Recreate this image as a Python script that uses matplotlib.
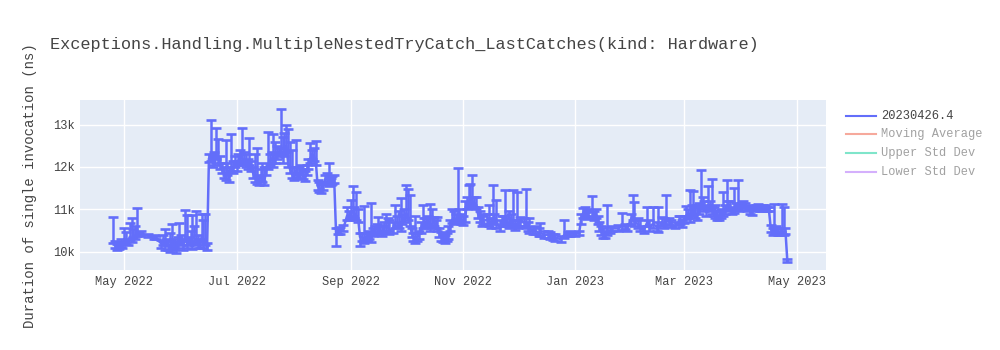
import matplotlib
matplotlib.use("Agg")
import matplotlib.pyplot as plt
import matplotlib.dates as mdates
from matplotlib.lines import Line2D
from matplotlib.ticker import FuncFormatter, FixedLocator
import numpy as np
import pandas as pd

# ---------------- data ----------------
series_name = "20230426.4"
hidden_series = ["Moving Average", "Upper Std Dev", "Lower Std Dev"]

dates_spring = ["2022-04-25", "2022-04-26", "2022-04-28", "2022-04-29", "2022-05-01",
                "2022-05-02", "2022-05-04", "2022-05-05", "2022-05-06", "2022-05-08",
                "2022-05-10", "2022-05-14", "2022-05-17", "2022-05-18", "2022-05-21",
                "2022-05-23", "2022-05-24", "2022-05-26", "2022-05-27", "2022-05-29",
                "2022-05-31", "2022-06-01", "2022-06-03", "2022-06-04", "2022-06-06",
                "2022-06-07", "2022-06-09", "2022-06-10", "2022-06-12", "2022-06-13",
                "2022-06-15"]
mean_spring = [10250, 10150, 10120, 10200, 10300,
               10250, 10350, 10280, 10400, 10450,
               10430, 10380, 10350, 10330, 10200,
               10150, 10250, 10080, 10200, 10080,
               10300, 10250, 10350, 10200, 10300,
               10150, 10300, 10200, 10350, 10150,
               10100]
upper_spring = [10810, 10250, 10200, 10300, 10560,
                10460, 10680, 10790, 10540, 11030,
                10480, 10420, 10390, 10370, 10280,
                10530, 10300, 10450, 10650, 10250,
                10680, 10400, 10980, 10870, 10500,
                10870, 10970, 10400, 10890, 10750,
                10200]
lower_spring = [10200, 10090, 10060, 10120, 10230,
                10180, 10280, 10220, 10320, 10380,
                10390, 10340, 10300, 10290, 10100,
                10040, 10150, 9990, 10100, 9970,
                10200, 10150, 10250, 10100, 10200,
                10060, 10200, 10100, 10250, 10080,
                10050]

dates_summer = ["2022-06-16", "2022-06-17", "2022-06-19", "2022-06-20", "2022-06-22",
                "2022-06-23", "2022-06-25", "2022-06-27", "2022-06-28", "2022-06-30",
                "2022-07-02", "2022-07-04", "2022-07-06", "2022-07-08", "2022-07-10",
                "2022-07-12", "2022-07-14", "2022-07-16", "2022-07-18", "2022-07-20",
                "2022-07-21", "2022-07-23", "2022-07-25", "2022-07-26", "2022-07-28",
                "2022-07-30", "2022-08-01", "2022-08-02", "2022-08-04", "2022-08-06",
                "2022-08-08", "2022-08-10", "2022-08-12", "2022-08-13", "2022-08-15",
                "2022-08-16", "2022-08-18", "2022-08-20", "2022-08-22"]
mean_summer = [12200, 12250, 12150, 12300, 12050,
               11950, 11800, 11750, 12000, 12100,
               12150, 12200, 12100, 12150, 11850,
               11700, 11800, 11650, 12050, 12200,
               12100, 12300, 12400, 12200, 12500,
               11950, 11800, 11900, 11850, 11800,
               11900, 12200, 12250, 12150, 11500,
               11450, 11700, 11650, 11700]
upper_summer = [12300, 13100, 12350, 12920, 12250,
                12100, 12630, 12000, 12770, 12250,
                12300, 12930, 12300, 12690, 12000,
                12450, 11950, 12000, 12820, 12350,
                12780, 12500, 13370, 12700, 12990,
                12600, 12000, 12630, 12000, 11950,
                12050, 12570, 12440, 12610, 11650,
                11600, 11800, 12090, 11780]
lower_summer = [12120, 12150, 12050, 12200, 11950,
                11850, 11700, 11650, 11900, 12000,
                12050, 12100, 12000, 12050, 11750,
                11600, 11680, 11570, 11950, 12100,
                12000, 12200, 12300, 12100, 12350,
                11850, 11700, 11800, 11750, 11720,
                11800, 12100, 12150, 12050, 11400,
                11380, 11600, 11550, 11600]

dates_autumn = ["2022-08-24", "2022-08-26", "2022-08-28", "2022-08-30", "2022-09-01",
                "2022-09-02", "2022-09-04", "2022-09-05", "2022-09-06", "2022-09-08",
                "2022-09-10", "2022-09-12", "2022-09-14", "2022-09-16", "2022-09-18",
                "2022-09-20", "2022-09-22", "2022-09-25", "2022-09-28", "2022-09-30",
                "2022-10-01", "2022-10-03", "2022-10-05", "2022-10-06", "2022-10-08",
                "2022-10-10", "2022-10-12", "2022-10-14", "2022-10-16", "2022-10-18",
                "2022-10-20", "2022-10-22", "2022-10-24", "2022-10-26", "2022-10-29",
                "2022-10-31", "2022-11-02", "2022-11-04", "2022-11-06", "2022-11-08",
                "2022-11-10", "2022-11-12", "2022-11-15", "2022-11-17", "2022-11-19",
                "2022-11-22", "2022-11-24", "2022-11-26", "2022-11-28", "2022-11-30",
                "2022-12-02", "2022-12-05", "2022-12-07", "2022-12-10", "2022-12-13",
                "2022-12-15", "2022-12-18", "2022-12-21", "2022-12-24", "2022-12-26",
                "2022-12-29"]
mean_autumn = [10450, 10500, 10550, 10850, 10900,
               10950, 10850, 10800, 10350, 10300,
               10350, 10300, 10500, 10550, 10450,
               10600, 10500, 10650, 10600, 10800,
               10900, 10700, 10350, 10300, 10400,
               10650, 10700, 10600, 10700, 10600,
               10350, 10300, 10400, 10750, 10800,
               10750, 10800, 11150, 11200, 11100,
               10800, 10750, 10700, 10800, 10650,
               10700, 10750, 10650, 10700, 10650,
               10700, 10650, 10550, 10500, 10450,
               10400, 10380, 10330, 10300, 10400,
               10430]
upper_autumn = [10550, 10580, 10620, 11050, 11220,
                11550, 11400, 11000, 10450, 11070,
                10440, 11150, 10600, 10830, 10600,
                10900, 10750, 11100, 11270, 11000,
                11570, 11350, 10450, 10840, 10500,
                11100, 10800, 11120, 10830, 10830,
                10470, 10400, 10600, 11000, 11970,
                10900, 11200, 11570, 11810, 11300,
                10950, 10900, 11100, 11570, 11220,
                10850, 11460, 10950, 11460, 11400,
                10820, 11480, 10800, 10600, 10680,
                10500, 10460, 10420, 10380, 10750,
                10480]
lower_autumn = [10140, 10420, 10480, 10750, 10800,
                10850, 10750, 10700, 10140, 10200,
                10250, 10220, 10420, 10450, 10380,
                10500, 10420, 10550, 10500, 10700,
                10800, 10600, 10250, 10200, 10300,
                10550, 10600, 10500, 10600, 10500,
                10250, 10200, 10300, 10680, 10700,
                10650, 10700, 11050, 11100, 11000,
                10700, 10650, 10600, 10700, 10550,
                10600, 10650, 10550, 10600, 10580,
                10600, 10560, 10450, 10420, 10380,
                10330, 10300, 10250, 10230, 10330,
                10380]

dates_winter = ["2023-01-01", "2023-01-03", "2023-01-05", "2023-01-07", "2023-01-10",
                "2023-01-12", "2023-01-14", "2023-01-16", "2023-01-18", "2023-01-21",
                "2023-01-24", "2023-01-26", "2023-01-29", "2023-02-01", "2023-02-02",
                "2023-02-05", "2023-02-07", "2023-02-09", "2023-02-12", "2023-02-15",
                "2023-02-17", "2023-02-19", "2023-02-22", "2023-02-24", "2023-02-26",
                "2023-02-28", "2023-03-02", "2023-03-04", "2023-03-06", "2023-03-08",
                "2023-03-10", "2023-03-12", "2023-03-14", "2023-03-16", "2023-03-18",
                "2023-03-20", "2023-03-22", "2023-03-24", "2023-03-26", "2023-03-28",
                "2023-03-30", "2023-04-01", "2023-04-03", "2023-04-05", "2023-04-07",
                "2023-04-09", "2023-04-11", "2023-04-13", "2023-04-15", "2023-04-17",
                "2023-04-19", "2023-04-21", "2023-04-23", "2023-04-24", "2023-04-25",
                "2023-04-26"]
mean_winter = [10420, 10450, 10900, 10850, 10950,
               10900, 10600, 10450, 10500, 10550,
               10550, 10600, 10550, 10850, 10700,
               10600, 10500, 10700, 10650, 10550,
               10700, 10750, 10650, 10600, 10700,
               10650, 10850, 10800, 11000, 10850,
               11100, 11050, 11100, 11000, 10900,
               10850, 10950, 11050, 11050, 11000,
               11100, 11050, 11100, 11050, 10950,
               11050, 11000, 11050, 11000, 10550,
               10500, 10450, 10500, 10450, 10480,
               9790]
upper_winter = [10470, 10500, 11040, 10950, 11310,
                11000, 10700, 10550, 11100, 10600,
                10620, 10920, 10620, 11350, 11180,
                10750, 10600, 11060, 11060, 11060,
                10820, 11350, 10750, 10700, 10840,
                10750, 11070, 11460, 11430, 11100,
                11930, 11200, 11550, 11710, 11100,
                10950, 11420, 11700, 11200, 11500,
                11700, 11150, 11150, 11100, 11050,
                11100, 11080, 11100, 11060, 10620,
                11120, 10550, 11120, 11060, 10550,
                9830]
lower_winter = [10370, 10400, 10800, 10780, 10850,
                10800, 10500, 10320, 10400, 10500,
                10500, 10520, 10500, 10750, 10600,
                10500, 10440, 10600, 10550, 10470,
                10600, 10650, 10580, 10550, 10620,
                10580, 10780, 10700, 10900, 10750,
                11000, 10950, 11000, 10900, 10800,
                10750, 10850, 10950, 10980, 10920,
                11000, 10980, 11050, 11000, 10870,
                11000, 10950, 11000, 10950, 10470,
                10420, 10400, 10430, 10400, 10420,
                9770]

# additional in-between runs (dense clusters in the reference)
dates_extra = ["2022-04-27", "2022-04-30", "2022-05-03", "2022-05-07", "2022-05-09",
               "2022-05-22", "2022-05-25", "2022-05-28", "2022-05-30", "2022-06-02",
               "2022-06-05", "2022-06-08", "2022-06-11", "2022-06-14",
               "2022-06-18", "2022-06-21", "2022-06-24", "2022-06-26", "2022-06-29",
               "2022-07-01", "2022-07-03", "2022-07-05", "2022-07-07", "2022-07-09",
               "2022-07-11", "2022-07-13", "2022-07-15", "2022-07-17", "2022-07-19",
               "2022-07-22", "2022-07-24", "2022-07-27", "2022-07-29", "2022-07-31",
               "2022-08-03", "2022-08-05", "2022-08-07", "2022-08-09", "2022-08-11",
               "2022-08-14", "2022-08-17", "2022-08-19", "2022-08-21", "2022-08-23",
               "2022-08-25", "2022-08-31", "2022-09-03", "2022-09-07", "2022-09-09",
               "2022-09-11", "2022-09-13", "2022-09-15", "2022-09-17", "2022-09-19",
               "2022-09-21", "2022-09-24", "2022-09-26", "2022-09-27", "2022-09-29",
               "2022-10-02", "2022-10-04", "2022-10-07", "2022-10-09", "2022-10-11",
               "2022-10-13", "2022-10-15", "2022-10-17", "2022-10-19", "2022-10-21",
               "2022-10-23", "2022-10-25", "2022-10-27", "2022-10-28", "2022-10-30",
               "2022-11-01", "2022-11-03", "2022-11-05", "2022-11-07", "2022-11-09",
               "2022-11-11", "2022-11-14", "2022-11-16", "2022-11-18", "2022-11-21",
               "2022-11-23", "2022-11-25", "2022-11-27", "2022-11-29", "2022-12-01",
               "2022-12-04", "2022-12-06", "2022-12-09", "2022-12-12", "2022-12-17",
               "2022-12-20", "2022-12-28",
               "2023-01-04", "2023-01-06", "2023-01-08", "2023-01-11", "2023-01-13",
               "2023-01-15", "2023-01-17", "2023-01-20", "2023-01-28", "2023-01-31",
               "2023-02-04", "2023-02-10", "2023-02-14", "2023-02-18", "2023-02-21",
               "2023-02-27", "2023-03-01", "2023-03-03", "2023-03-05", "2023-03-07",
               "2023-03-09", "2023-03-11", "2023-03-13", "2023-03-15", "2023-03-17",
               "2023-03-19", "2023-03-21", "2023-03-23", "2023-03-25", "2023-03-27",
               "2023-03-29", "2023-03-31", "2023-04-02", "2023-04-04", "2023-04-06",
               "2023-04-08", "2023-04-10", "2023-04-12", "2023-04-14", "2023-04-16",
               "2023-04-18", "2023-04-20", "2023-04-22"]
mean_extra = [10100, 10150, 10200, 10350, 10420,
              10250, 10150, 10150, 10200, 10150,
              10250, 10250, 10150, 10250,
              12100, 12200, 11850, 11900, 11950,
              12000, 12250, 12150, 12050, 12000,
              11750, 11650, 11750, 11900, 12150,
              12200, 12350, 12350, 12100, 11850,
              11850, 11900, 11750, 12050, 12300,
              11550, 11550, 11750, 11650, 11700,
              10500, 10850, 10900, 10350, 10350,
              10400, 10450, 10550, 10500, 10550,
              10600, 10550, 10700, 10650, 10750,
              10850, 10450, 10350, 10550, 10650,
              10750, 10650, 10650, 10450, 10300,
              10350, 10600, 10800, 10750, 10850,
              10700, 11100, 11250, 11150, 10900,
              10700, 10750, 10650, 10750, 10600,
              10700, 10700, 10750, 10600, 10650,
              10700, 10600, 10500, 10450, 10400,
              10350, 10420,
              10750, 10950, 10900, 10850, 10750,
              10500, 10400, 10500, 10600, 10750,
              10650, 10600, 10600, 10650, 10700,
              10750, 10750, 10900, 10950, 10900,
              11000, 11150, 10950, 11050, 10950,
              10850, 10900, 11000, 11100, 10950,
              11050, 11000, 11100, 11000, 10950,
              11000, 11050, 11000, 11050, 11000,
              10450, 10500, 10450]
upper_extra = [10180, 10220, 10300, 10600, 10470,
               10400, 10250, 10300, 10350, 10300,
               10350, 10600, 10300, 10900,
               12250, 12650, 12000, 12100, 12150,
               12150, 12400, 12350, 12200, 12150,
               12300, 11800, 12100, 12000, 12300,
               12600, 12450, 12800, 12900, 12400,
               12000, 12050, 11900, 12200, 12400,
               11700, 11650, 11850, 11750, 11800,
               10560, 10950, 11050, 10450, 10450,
               10500, 10550, 10650, 10620, 10700,
               10800, 10700, 10850, 10950, 10900,
               11470, 10550, 10450, 10700, 10800,
               10850, 11000, 10750, 10550, 10400,
               10450, 10750, 10950, 10900, 11000,
               10850, 11300, 11600, 11300, 11050,
               10850, 10900, 10800, 10900, 10750,
               10850, 10800, 10900, 10750, 10750,
               10800, 10700, 10580, 10550, 10480,
               10430, 10470,
               10900, 11050, 11000, 10950, 10850,
               10600, 10500, 10580, 10650, 10900,
               10800, 10750, 10700, 10800, 10800,
               10850, 10850, 11000, 11100, 11050,
               11150, 11300, 11100, 11200, 11050,
               10950, 11000, 11100, 11200, 11050,
               11150, 11100, 11200, 11080, 11050,
               11080, 11120, 11080, 11100, 11050,
               10550, 10600, 10550]
lower_extra = [10050, 10100, 10150, 10300, 10370,
               10150, 10050, 10050, 10100, 10050,
               10150, 10150, 10080, 10150,
               12000, 12100, 11750, 11800, 11850,
               11900, 12150, 12050, 11950, 11900,
               11650, 11580, 11650, 11800, 12050,
               12100, 12250, 12250, 12000, 11750,
               11750, 11800, 11680, 11950, 12200,
               11450, 11450, 11650, 11570, 11620,
               10420, 10750, 10800, 10250, 10280,
               10300, 10380, 10470, 10420, 10450,
               10500, 10450, 10600, 10550, 10650,
               10750, 10350, 10250, 10450, 10550,
               10650, 10550, 10550, 10350, 10220,
               10250, 10500, 10700, 10650, 10750,
               10620, 11000, 11150, 11050, 10800,
               10600, 10650, 10550, 10650, 10500,
               10600, 10600, 10650, 10520, 10550,
               10600, 10500, 10430, 10380, 10330,
               10280, 10370,
               10650, 10850, 10800, 10750, 10650,
               10400, 10320, 10450, 10540, 10650,
               10550, 10500, 10500, 10550, 10620,
               10650, 10680, 10800, 10850, 10800,
               10900, 11050, 10850, 10950, 10850,
               10750, 10800, 10900, 11000, 10880,
               10980, 10950, 11030, 10950, 10880,
               10950, 11000, 10950, 11000, 10950,
               10400, 10420, 10400]

x_ticks = ["2022-05-01", "2022-07-01", "2022-09-01", "2022-11-01",
           "2023-01-01", "2023-03-01", "2023-05-01"]
y_ticks = [10000, 11000, 12000, 13000]

# ---------------- assemble ----------------
dates = pd.to_datetime(dates_spring + dates_summer + dates_autumn + dates_winter + dates_extra)
mean = np.array(mean_spring + mean_summer + mean_autumn + mean_winter + mean_extra, dtype=float)
upper = np.array(upper_spring + upper_summer + upper_autumn + upper_winter + upper_extra, dtype=float)
lower = np.array(lower_spring + lower_summer + lower_autumn + lower_winter + lower_extra, dtype=float)
order = np.argsort(dates.values, kind="stable")
dates, mean, upper, lower = dates[order], mean[order], upper[order], lower[order]

MONO = ["Liberation Mono", "DejaVu Sans Mono"]
TXT = "#444444"
BLUE = "#636efa"

fig = plt.figure(figsize=(10, 3.5), dpi=100)
fig.patch.set_facecolor("white")
ax = fig.add_axes([0.080, 1 - 270 / 350, 0.746, 170 / 350])
ax.set_facecolor("#E5ECF6")

ax.errorbar(dates, mean, yerr=[mean - lower, upper - mean], color=BLUE,
            lw=1.8, elinewidth=1.8, capsize=3.4, capthick=1.9, zorder=3)

ax.set_xlim(pd.Timestamp("2022-04-07"), pd.Timestamp("2023-05-17"))
ax.set_ylim(9570, 13580)

ax.xaxis.set_major_locator(FixedLocator(mdates.date2num(pd.to_datetime(x_ticks))))
ax.xaxis.set_major_formatter(mdates.DateFormatter("%b %Y"))
ax.yaxis.set_major_locator(FixedLocator(y_ticks))
ax.yaxis.set_major_formatter(FuncFormatter(lambda v, p: f"{int(round(v / 1000))}k"))

ax.grid(True, color="white", lw=1)
ax.set_axisbelow(True)
for s in ax.spines.values():
    s.set_visible(False)
ax.tick_params(length=0, labelsize=8.64, labelcolor=TXT, pad=4)
for lab in ax.get_xticklabels() + ax.get_yticklabels():
    lab.set_fontfamily(MONO)

# title and y label
fig.text(0.050, 1 - 45 / 350, "Exceptions.Handling.MultipleNestedTryCatch_LastCatches(kind: Hardware)",
         fontsize=12.2, color=TXT, family=MONO, ha="left", va="center")
fig.text(0.030, 1 - 186 / 350, "Duration of single invocation (ns)", rotation=90,
         fontsize=10.08, color=TXT, family=MONO, ha="center", va="center")

# legend (first trace visible, others legend-only / faded)
leg_colors = [BLUE, "#EF553B", "#00cc96", "#ab63fa"]
leg_labels = [series_name] + hidden_series
for i, (c, l) in enumerate(zip(leg_colors, leg_labels)):
    ypx = 115.5 + i * 18.8
    yf = 1 - ypx / 350
    a = 1.0 if i == 0 else 0.5
    fig.add_artist(Line2D([846 / 1000, 876 / 1000], [yf, yf], color=c, lw=1.5, alpha=a,
                          transform=fig.transFigure))
    fig.text(881 / 1000, yf, l, fontsize=8.64, color=TXT, alpha=a, family=MONO,
             ha="left", va="center")

fig.savefig("out.png", dpi=100, facecolor="white")
